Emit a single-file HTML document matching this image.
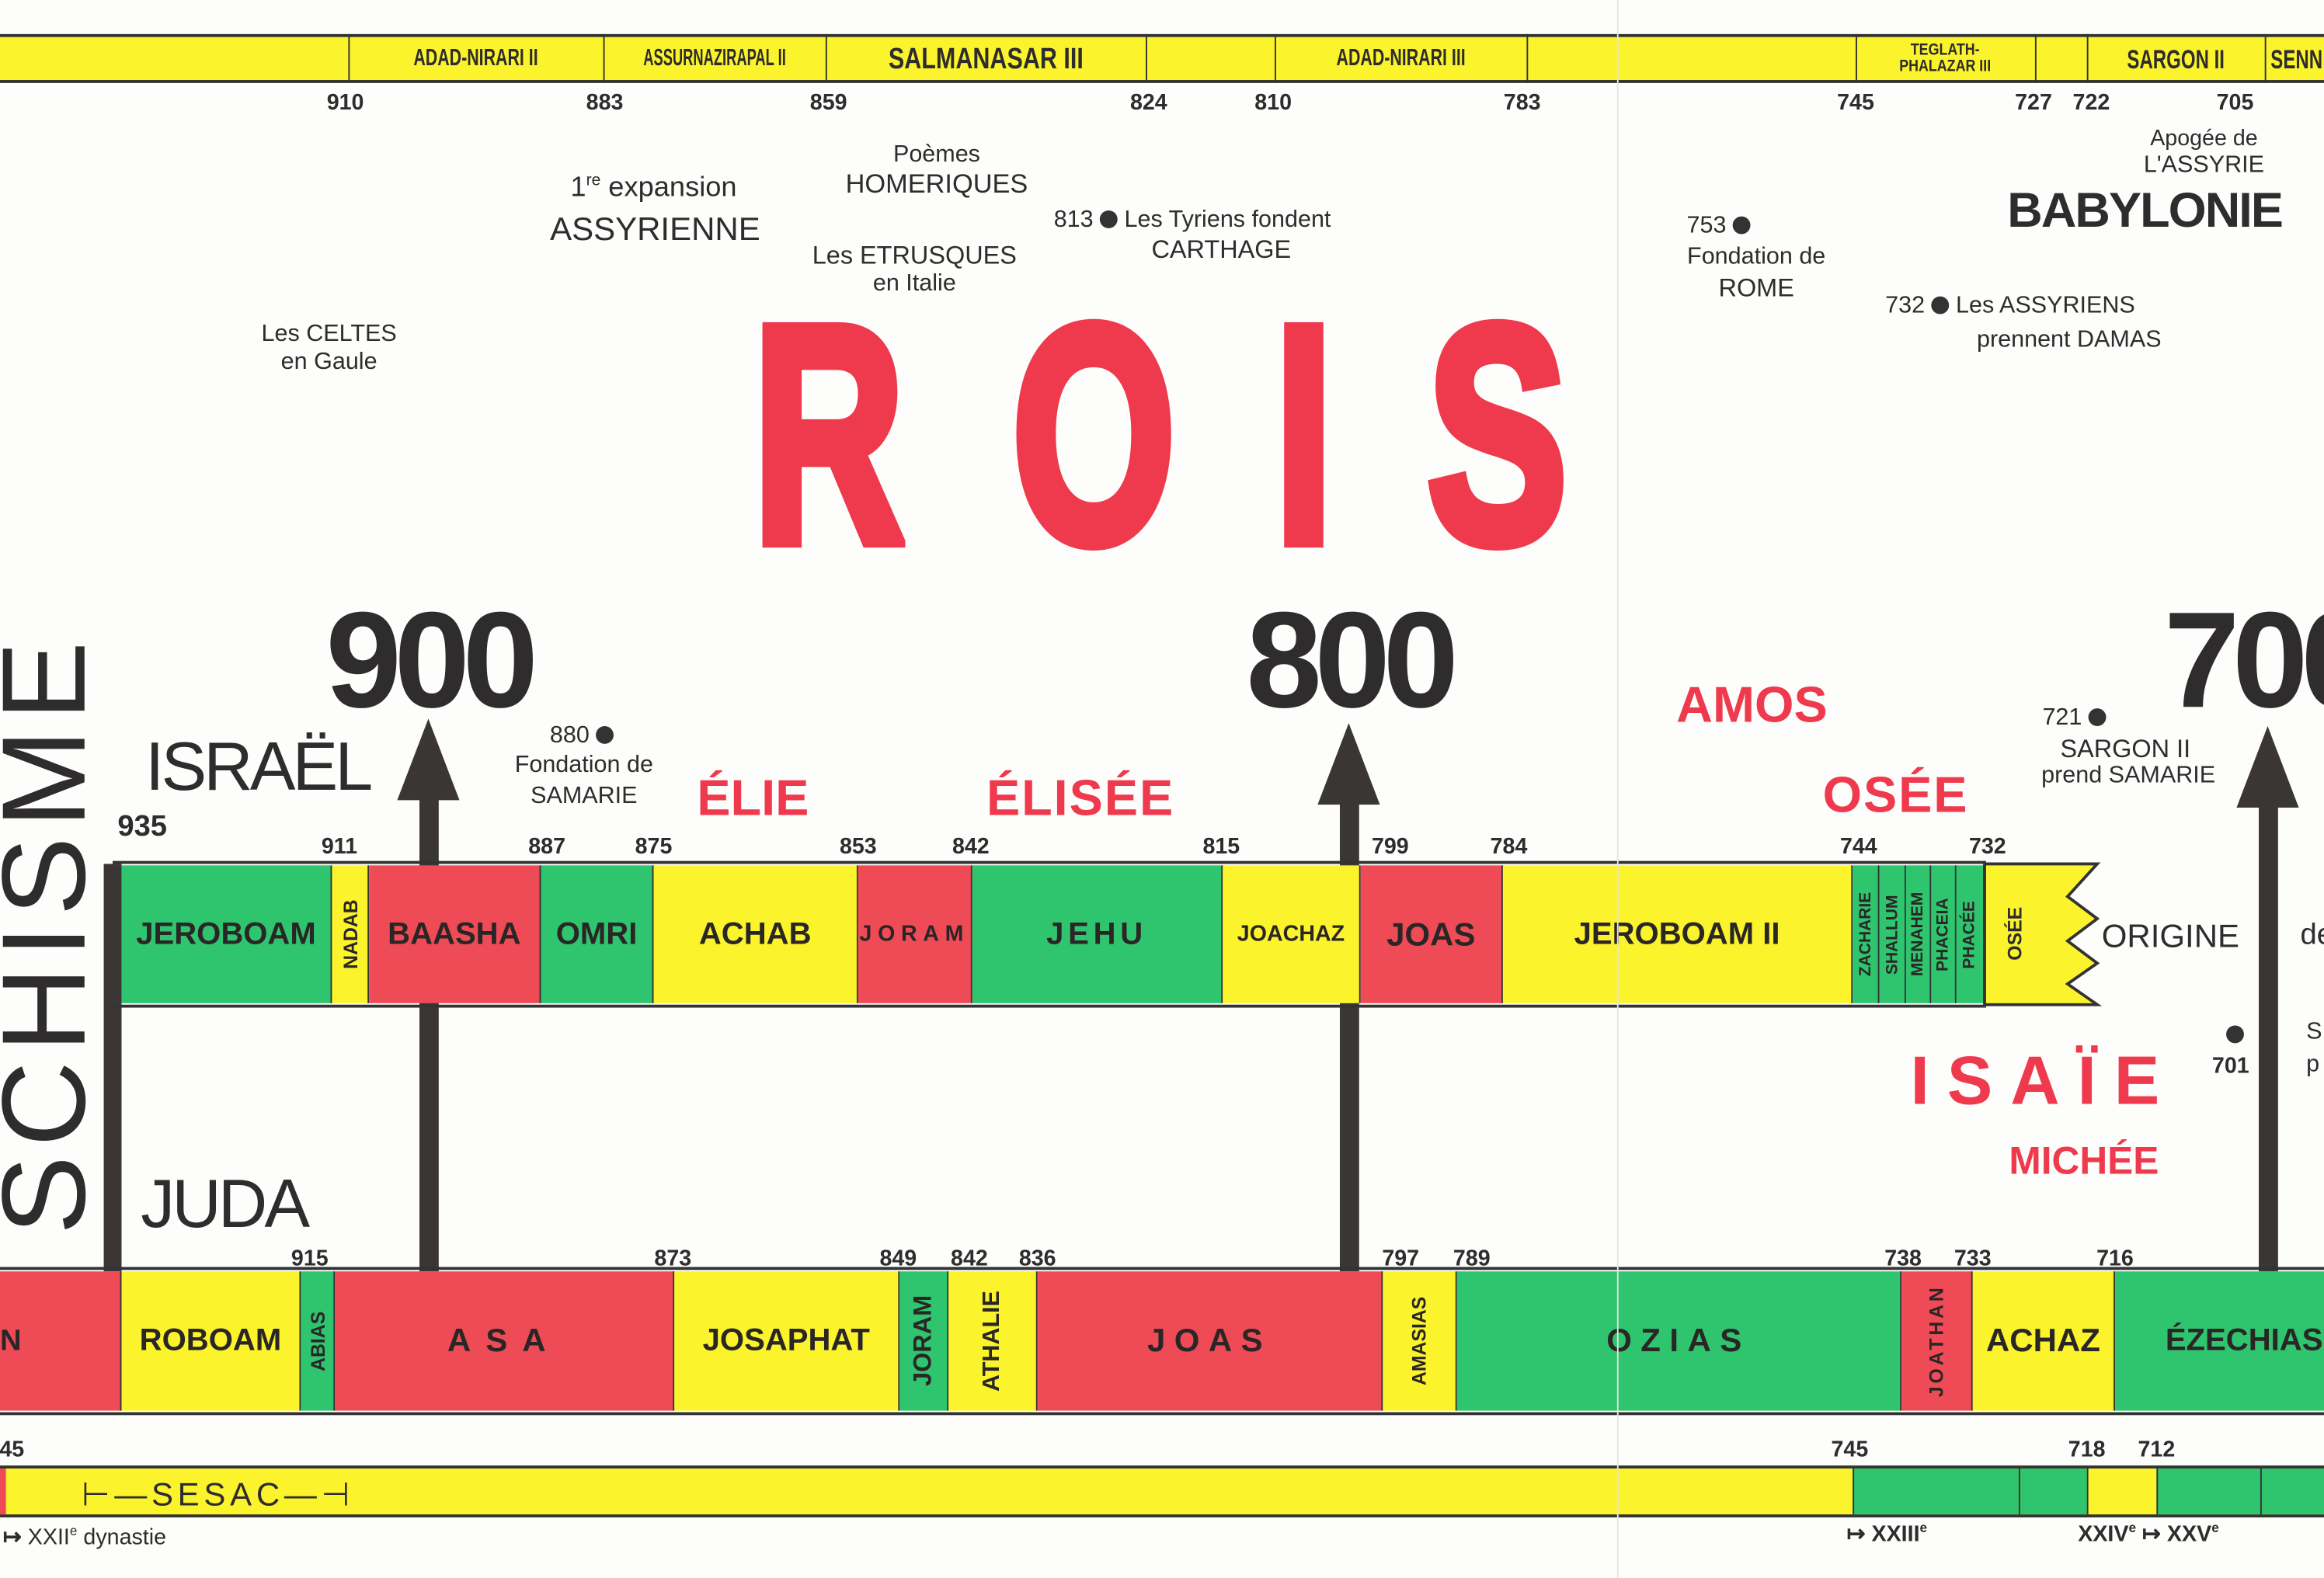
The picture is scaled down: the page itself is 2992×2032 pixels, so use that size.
<!DOCTYPE html>
<html><head><meta charset="utf-8"><style>
html,body{margin:0;padding:0;background:#fdfdfb;}
body{width:2992px;height:2032px;overflow:hidden;position:relative;}
#s{position:absolute;left:0;top:0;width:1568px;height:1065px;transform:scale(1.90816);transform-origin:0 0;font-family:"Liberation Sans",sans-serif;color:#2e2c2c;}
.a{position:absolute;}
.t{position:absolute;white-space:nowrap;transform:translateX(-50%);text-align:center;line-height:1.05;}
.y{position:absolute;white-space:nowrap;transform:translateX(-50%);font-weight:bold;font-size:15px;line-height:1;}
.c{position:absolute;box-sizing:border-box;border-right:1.5px solid #333;display:flex;align-items:center;justify-content:center;font-weight:bold;color:#2a2626;overflow:hidden;white-space:nowrap;}
.G{background:#2fc46e}.R{background:#ef4b57}.Y{background:#fbf42c}
.v{writing-mode:vertical-rl;transform:rotate(180deg);font-size:13px;}
.bar{position:absolute;background:#fbf42c;box-sizing:border-box;border-top:2.5px solid #333;border-bottom:2.5px solid #333;}
.dv{position:absolute;top:23px;height:33px;border-left:1.5px solid #333;}
.k{position:absolute;top:25px;height:30px;display:flex;align-items:center;justify-content:center;font-weight:bold;font-size:16px;white-space:nowrap;}
.red{color:#ef3a4e;font-weight:bold;}
.sh{position:absolute;background:#3a3636;}
.L{position:absolute;top:190px;font-size:208px;line-height:1;font-weight:bold;color:#ef3a4e;transform:scaleX(.68);transform-origin:0 0;-webkit-text-stroke:9px #ef3a4e;}
</style></head><body><div id="s">

<!-- top Assyria bar -->
<div class="bar" style="left:0;top:23px;width:1568px;height:33px;"></div>
<div class="dv" style="left:235px"></div><div class="dv" style="left:407px"></div><div class="dv" style="left:557px"></div><div class="dv" style="left:773px"></div><div class="dv" style="left:860px"></div><div class="dv" style="left:1030px"></div><div class="dv" style="left:1252px"></div><div class="dv" style="left:1373px"></div><div class="dv" style="left:1408px"></div><div class="dv" style="left:1528px"></div>
<div class="k" style="left:235px;width:172px;"><span style="display:inline-block;transform:scaleX(.7)">ADAD-NIRARI II</span></div>
<div class="k" style="left:407px;width:150px;"><span style="display:inline-block;transform:scaleX(.6)">ASSURNAZIRAPAL II</span></div>
<div class="k" style="left:557px;width:216px;font-size:20px;"><span style="display:inline-block;transform:scaleX(.8)">SALMANASAR III</span></div>
<div class="k" style="left:860px;width:170px;"><span style="display:inline-block;transform:scaleX(.7)">ADAD-NIRARI III</span></div>
<div class="k" style="left:1252px;width:121px;font-size:11px;line-height:1;text-align:center;"><span style="display:inline-block;transform:scaleX(.85)">TEGLATH-<br>PHALAZAR III</span></div>
<div class="k" style="left:1408px;width:120px;font-size:18px;"><span style="display:inline-block;transform:scaleX(.7)">SARGON II</span></div>
<div class="k" style="left:1528px;width:60px;font-size:18px;justify-content:flex-start;padding-left:4px;"><span style="display:inline-block;transform:scaleX(.7);transform-origin:left">SENN</span></div>

<div class="y" style="left:233px;top:62px">910</div><div class="y" style="left:408px;top:62px">883</div><div class="y" style="left:559px;top:62px">859</div><div class="y" style="left:775px;top:62px">824</div><div class="y" style="left:859px;top:62px">810</div><div class="y" style="left:1027px;top:62px">783</div><div class="y" style="left:1252px;top:62px">745</div><div class="y" style="left:1372px;top:62px">727</div><div class="y" style="left:1411px;top:62px">722</div><div class="y" style="left:1508px;top:62px">705</div>

<!-- top texts -->
<div class="t" style="left:441px;top:117px;font-size:19px;">1<sup style="font-size:11px">re</sup> expansion</div>
<div class="t" style="left:442px;top:143px;font-size:22px;">ASSYRIENNE</div>
<div class="t" style="left:632px;top:97px;font-size:16px;">Poèmes</div>
<div class="t" style="left:632px;top:115px;font-size:18px;">HOMERIQUES</div>
<div class="t" style="left:617px;top:164px;font-size:17px;">Les ETRUSQUES</div>
<div class="t" style="left:617px;top:184px;font-size:16px;">en Italie</div>
<div class="a" style="left:711px;top:140px;font-size:16px;white-space:nowrap;">813 <span style="display:inline-block;width:12px;height:12px;border-radius:50%;background:#333;vertical-align:-1px"></span> Les Tyriens fondent</div>
<div class="t" style="left:824px;top:160px;font-size:17px;">CARTHAGE</div>
<div class="t" style="left:222px;top:218px;font-size:16px;">Les CELTES</div>
<div class="t" style="left:222px;top:237px;font-size:16px;">en Gaule</div>
<div class="a" style="left:1138px;top:144px;font-size:16px;white-space:nowrap;">753 <span style="display:inline-block;width:12px;height:12px;border-radius:50%;background:#333;vertical-align:-1px"></span></div>
<div class="t" style="left:1185px;top:166px;font-size:16px;">Fondation de</div>
<div class="t" style="left:1185px;top:186px;font-size:17px;">ROME</div>
<div class="t" style="left:1487px;top:86px;font-size:15px;">Apogée de</div>
<div class="t" style="left:1487px;top:104px;font-size:16px;">L'ASSYRIE</div>
<div class="t" style="left:1447px;top:125px;font-size:33px;font-weight:bold;letter-spacing:-1px;">BABYLONIE</div>
<div class="a" style="left:1272px;top:198px;font-size:16px;white-space:nowrap;">732 <span style="display:inline-block;width:12px;height:12px;border-radius:50%;background:#333;vertical-align:-1px"></span> Les ASSYRIENS</div>
<div class="t" style="left:1396px;top:222px;font-size:16px;">prennent DAMAS</div>

<!-- ROIS -->
<div class="L" style="left:508px;">R</div>
<div class="L" style="left:683px;">O</div>
<div class="L" style="left:860px;">I</div>
<div class="L" style="left:963px;">S</div>

<!-- big years -->
<div class="t" style="left:289px;top:398px;font-size:92px;font-weight:bold;letter-spacing:-5px;">900</div>
<div class="t" style="left:910px;top:398px;font-size:92px;font-weight:bold;letter-spacing:-5px;">800</div>
<div class="a" style="left:1460px;top:398px;font-size:92px;font-weight:bold;letter-spacing:-5px;white-space:nowrap;line-height:1.05;">700</div>

<!-- SCHISME -->
<div class="a" style="left:60px;top:630px;transform:translate(-50%,-50%) rotate(-90deg);transform-origin:center;font-size:80px;letter-spacing:6px;white-space:nowrap;line-height:1;margin-left:-30px;">SCHISME</div>

<div class="a" style="left:98px;top:490px;font-size:46px;letter-spacing:-2px;">ISRAËL</div>
<div class="a" style="left:95px;top:785px;font-size:46px;letter-spacing:-2px;">JUDA</div>
<div class="y" style="left:96px;top:548px;font-size:20px;">935</div>

<div class="a" style="left:371px;top:488px;font-size:16px;white-space:nowrap;">880 <span style="display:inline-block;width:12px;height:12px;border-radius:50%;background:#333;vertical-align:-1px"></span></div>
<div class="t" style="left:394px;top:509px;font-size:16px;">Fondation de</div>
<div class="t" style="left:394px;top:530px;font-size:16px;">SAMARIE</div>
<div class="t red" style="left:508px;top:522px;font-size:34px;">ÉLIE</div>
<div class="t red" style="left:729px;top:522px;font-size:34px;letter-spacing:1px;">ÉLISÉE</div>
<div class="t red" style="left:1182px;top:459px;font-size:34px;">AMOS</div>
<div class="t red" style="left:1279px;top:520px;font-size:34px;letter-spacing:1px;">OSÉE</div>
<div class="a" style="left:1378px;top:476px;font-size:16px;white-space:nowrap;">721 <span style="display:inline-block;width:12px;height:12px;border-radius:50%;background:#333;vertical-align:-1px"></span></div>
<div class="t" style="left:1434px;top:497px;font-size:17px;">SARGON II</div>
<div class="t" style="left:1436px;top:516px;font-size:16px;">prend SAMARIE</div>
<div class="t red" style="left:1379px;top:705px;font-size:46px;letter-spacing:12px;">ISAÏE</div>
<div class="t red" style="left:1406px;top:770px;font-size:26px;">MICHÉE</div>
<div class="a" style="left:1502px;top:692px;width:12px;height:12px;border-radius:50%;background:#333"></div>
<div class="y" style="left:1505px;top:712px;font-size:15px;">701</div>
<div class="a" style="left:1556px;top:688px;font-size:16px;">S</div>
<div class="a" style="left:1556px;top:710px;font-size:16px;">p</div>
<div class="a" style="left:1552px;top:620px;font-size:20px;">de</div>

<!-- vertical lines and arrows -->
<div class="sh" style="left:70px;top:583px;width:12px;height:275px;"></div>
<div class="sh" style="left:283px;top:530px;width:13px;height:328px;"></div>
<div class="sh" style="left:904px;top:530px;width:13px;height:328px;"></div>
<div class="sh" style="left:1524px;top:530px;width:13px;height:328px;"></div>
<svg class="a" style="left:0;top:0" width="1568" height="1065">
<polygon points="289,485 268,540 310,540" fill="#3a3636"/>
<polygon points="910,488 889,543 931,543" fill="#3a3636"/>
<polygon points="1530,490 1509,545 1551,545" fill="#3a3636"/>
</svg>

<!-- Israel years -->
<div class="y" style="left:229px;top:564px">911</div><div class="y" style="left:369px;top:564px">887</div><div class="y" style="left:441px;top:564px">875</div><div class="y" style="left:579px;top:564px">853</div><div class="y" style="left:655px;top:564px">842</div><div class="y" style="left:824px;top:564px">815</div><div class="y" style="left:938px;top:564px">799</div><div class="y" style="left:1018px;top:564px">784</div><div class="y" style="left:1254px;top:564px">744</div><div class="y" style="left:1341px;top:564px">732</div>

<!-- Israel bar -->
<div class="a" style="left:76px;top:581px;width:1264px;height:99px;border-top:2.5px solid #333;border-bottom:2.5px solid #333;box-sizing:border-box;"></div>
<div class="c G" style="left:82px;top:584px;width:142px;height:93px;font-size:21px;">JEROBOAM</div>
<div class="c Y" style="left:224px;top:584px;width:25px;height:93px;"><span class="v">NADAB</span></div>
<div class="c R" style="left:249px;top:584px;width:116px;height:93px;font-size:21px;">BAASHA</div>
<div class="c G" style="left:365px;top:584px;width:76px;height:93px;font-size:21px;">OMRI</div>
<div class="c Y" style="left:441px;top:584px;width:138px;height:93px;font-size:21px;">ACHAB</div>
<div class="c R" style="left:579px;top:584px;width:77px;height:93px;font-size:15px;letter-spacing:4px;">JORAM</div>
<div class="c G" style="left:656px;top:584px;width:169px;height:93px;font-size:21px;letter-spacing:3px;">JEHU</div>
<div class="c Y" style="left:825px;top:584px;width:93px;height:93px;font-size:15px;">JOACHAZ</div>
<div class="c R" style="left:918px;top:584px;width:96px;height:93px;font-size:22px;">JOAS</div>
<div class="c Y" style="left:1014px;top:584px;width:236px;height:93px;font-size:21px;">JEROBOAM II</div>
<div class="c G" style="left:1250px;top:584px;width:18px;height:93px;"><span class="v" style="font-size:11px">ZACHARIE</span></div>
<div class="c G" style="left:1268px;top:584px;width:18px;height:93px;"><span class="v" style="font-size:11px">SHALLUM</span></div>
<div class="c G" style="left:1286px;top:584px;width:17px;height:93px;"><span class="v" style="font-size:11px">MENAHEM</span></div>
<div class="c G" style="left:1303px;top:584px;width:17px;height:93px;"><span class="v" style="font-size:11px">PHACEIA</span></div>
<div class="c G" style="left:1320px;top:584px;width:19px;height:93px;"><span class="v" style="font-size:11px">PHACÉE</span></div>
<svg class="a" style="left:0;top:0" width="1568" height="1065">
<polygon points="1339,583 1415,583 1395,605 1415,620 1395,635 1415,650 1395,664 1415,678 1339,678" fill="#fbf42c" stroke="#333" stroke-width="2"/>
</svg>
<div class="a" style="left:1339px;top:584px;width:40px;height:93px;display:flex;align-items:center;justify-content:center;font-weight:bold;"><span class="v" style="font-size:13px">OSÉE</span></div>
<div class="a" style="left:1418px;top:619px;font-size:22px;white-space:nowrap;">ORIGINE</div>

<!-- Juda years -->
<div class="y" style="left:209px;top:842px">915</div><div class="y" style="left:454px;top:842px">873</div><div class="y" style="left:606px;top:842px">849</div><div class="y" style="left:654px;top:842px">842</div><div class="y" style="left:700px;top:842px">836</div><div class="y" style="left:945px;top:842px">797</div><div class="y" style="left:993px;top:842px">789</div><div class="y" style="left:1284px;top:842px">738</div><div class="y" style="left:1331px;top:842px">733</div><div class="y" style="left:1427px;top:842px">716</div>

<!-- Juda bar -->
<div class="a" style="left:0;top:855px;width:1568px;height:100px;border-top:2.5px solid #333;border-bottom:2.5px solid #333;box-sizing:border-box;"></div>
<div class="c R" style="left:0;top:858px;width:82px;height:94px;font-size:20px;justify-content:flex-start;">N</div>
<div class="c Y" style="left:82px;top:858px;width:121px;height:94px;font-size:21px;">ROBOAM</div>
<div class="c G" style="left:203px;top:858px;width:23px;height:94px;"><span class="v">ABIAS</span></div>
<div class="c R" style="left:226px;top:858px;width:229px;height:94px;font-size:22px;letter-spacing:10px;">ASA</div>
<div class="c Y" style="left:455px;top:858px;width:152px;height:94px;font-size:21px;">JOSAPHAT</div>
<div class="c G" style="left:607px;top:858px;width:33px;height:94px;"><span class="v" style="font-size:17px">JORAM</span></div>
<div class="c Y" style="left:640px;top:858px;width:60px;height:94px;"><span class="v" style="font-size:16px">ATHALIE</span></div>
<div class="c R" style="left:700px;top:858px;width:233px;height:94px;font-size:22px;letter-spacing:6px;">JOAS</div>
<div class="c Y" style="left:933px;top:858px;width:50px;height:94px;"><span class="v" style="font-size:13px">AMASIAS</span></div>
<div class="c G" style="left:983px;top:858px;width:300px;height:94px;font-size:22px;letter-spacing:6px;">OZIAS</div>
<div class="c R" style="left:1283px;top:858px;width:48px;height:94px;"><span class="v" style="font-size:13px;letter-spacing:2px">JOATHAN</span></div>
<div class="c Y" style="left:1331px;top:858px;width:96px;height:94px;font-size:22px;">ACHAZ</div>
<div class="c G" style="left:1427px;top:858px;width:160px;height:94px;font-size:21px;justify-content:flex-start;padding-left:34px;">ÉZECHIAS</div>

<!-- Egypt bar -->
<div class="y" style="left:8px;top:971px">45</div><div class="y" style="left:1248px;top:971px">745</div><div class="y" style="left:1408px;top:971px">718</div><div class="y" style="left:1455px;top:971px">712</div>
<div class="a" style="left:0;top:989px;width:1568px;height:35px;border-top:2.5px solid #333;border-bottom:2.5px solid #333;box-sizing:border-box;background:#fbf42c;"></div>
<div class="a R" style="left:0;top:991px;width:4px;height:31px;"></div>
<div class="a G" style="left:1250px;top:991px;width:112px;height:31px;border-left:1.5px solid #333;box-sizing:border-box;"></div>
<div class="a G" style="left:1362px;top:991px;width:46px;height:31px;border-left:1.5px solid #333;box-sizing:border-box;"></div>
<div class="a G" style="left:1455px;top:991px;width:70px;height:31px;border-left:1.5px solid #333;box-sizing:border-box;"></div>
<div class="a G" style="left:1525px;top:991px;width:43px;height:31px;border-left:1.5px solid #333;box-sizing:border-box;"></div>
<div class="a" style="left:1408px;top:991px;width:47px;height:31px;border-left:1.5px solid #333;box-sizing:border-box;"></div>
<div class="a" style="left:55px;top:996px;font-size:22px;letter-spacing:3px;white-space:nowrap;">⊢—SESAC—⊣</div>
<div class="a" style="left:2px;top:1028px;font-size:15px;white-space:nowrap;font-weight:bold;">↦ <span style="font-weight:normal">XXII<sup style="font-size:9px">e</sup> dynastie</span></div>
<div class="a" style="left:1246px;top:1026px;font-size:15px;white-space:nowrap;font-weight:bold;">↦ XXIII<sup style="font-size:9px">e</sup></div>
<div class="a" style="left:1402px;top:1026px;font-size:15px;white-space:nowrap;font-weight:bold;">XXIV<sup style="font-size:9px">e</sup> ↦ XXV<sup style="font-size:9px">e</sup></div>

<!-- fold line -->
<div class="a" style="left:1091px;top:0;width:1px;height:1065px;background:#e4e4e0;"></div>
</div></body></html>
